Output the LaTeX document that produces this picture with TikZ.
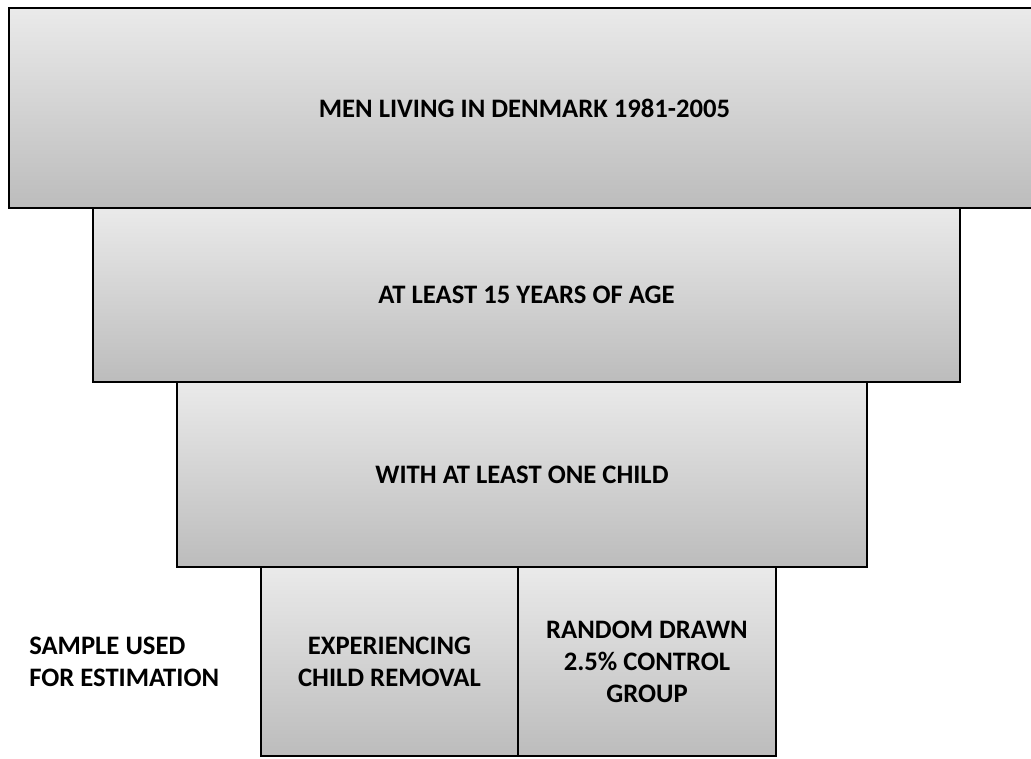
\documentclass[tikz,border=0pt]{standalone}
\usepackage{fontspec}
\setmainfont{Carlito}
\usetikzlibrary{positioning}
\definecolor{boxtop}{HTML}{EAEAEA}
\definecolor{boxbot}{HTML}{BCBCBC}

\begin{document}
\begin{tikzpicture}
[x=0.75pt, y=-0.75pt,
 lvl/.style={rectangle, draw=black, line width=2.2pt, top color=boxtop, bottom color=boxbot,
   inner sep=0pt, outer sep=0pt, align=center, font=\fontsize{20}{24}\selectfont\bfseries},
 lbl/.style={align=left, inner sep=0pt, font=\fontsize{20}{24}\selectfont\bfseries}]
\useasboundingbox (0,0) rectangle (1031,759);
\node[lvl, minimum width=773.25pt, minimum height=150pt] (b1) at (524.5, 108) {MEN LIVING IN DENMARK 1981-2005};
\node[lvl, minimum width=650.25pt, minimum height=130.5pt] (b2) at (526.5, 295) {AT LEAST 15 YEARS OF AGE};
\node[lvl, minimum width=517.5pt, minimum height=138.75pt] (b3) at (522, 474.5) {WITH AT LEAST ONE CHILD};
\node[lvl, minimum width=192.75pt, minimum height=141.75pt] (b4) at (389.5, 661.5) {EXPERIENCING\\CHILD REMOVAL};
\node[lvl, minimum width=193.5pt, minimum height=141.75pt, right=0pt of b4] (b5) {RANDOM DRAWN\\2.5\% CONTROL\\GROUP};
\node[lbl, anchor=west] (smp) at (29, 662) {SAMPLE USED\\FOR ESTIMATION};
\end{tikzpicture}
\end{document}
